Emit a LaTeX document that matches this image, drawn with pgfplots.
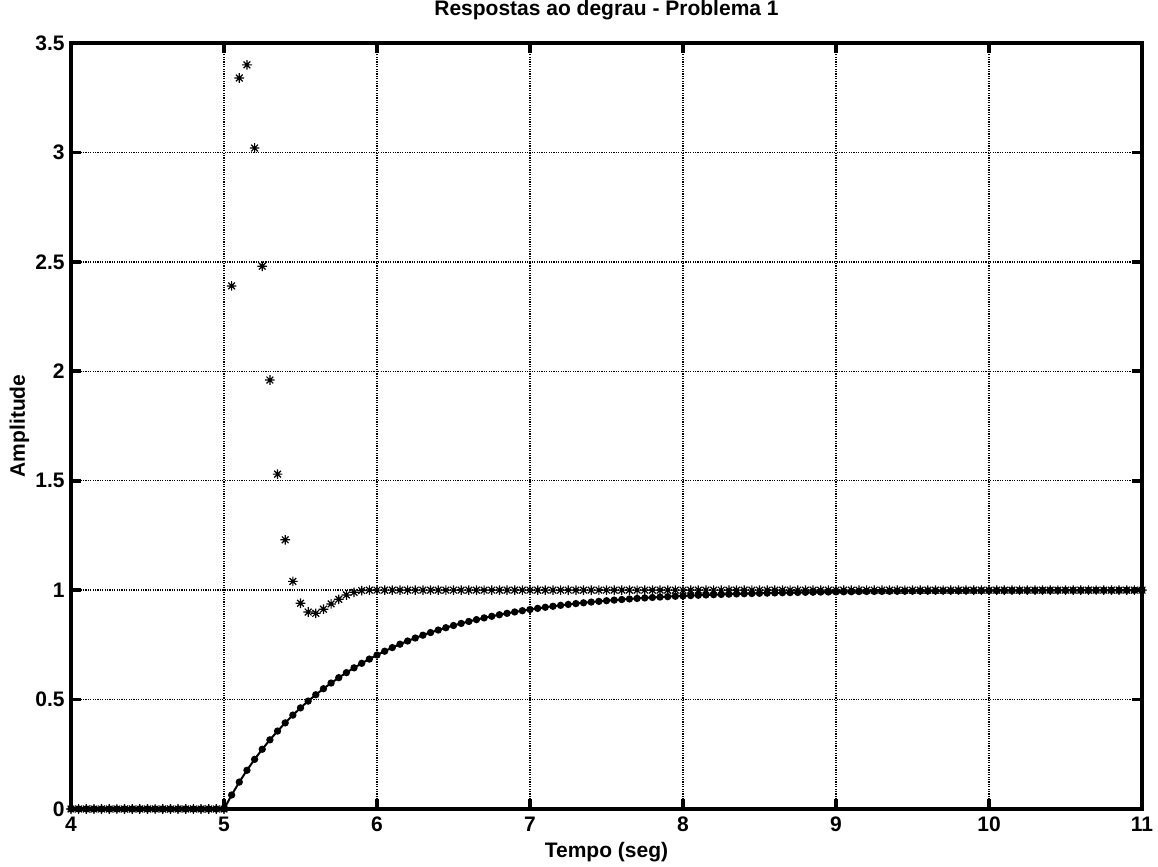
\documentclass[border=0pt]{standalone}
\usepackage{fontspec}
\setmainfont{Liberation Sans}
\usepackage{pgfplots}
\pgfplotsset{compat=1.18}
\usepackage{pgfplotstable}

% MATLAB-style '*' marker: plus and cross together
\pgfdeclareplotmark{mstar}{%
  \pgfpathmoveto{\pgfqpoint{-\pgfplotmarksize}{0pt}}%
  \pgfpathlineto{\pgfqpoint{\pgfplotmarksize}{0pt}}%
  \pgfpathmoveto{\pgfqpoint{0pt}{-\pgfplotmarksize}}%
  \pgfpathlineto{\pgfqpoint{0pt}{\pgfplotmarksize}}%
  \pgfpathmoveto{\pgfqpoint{-.7\pgfplotmarksize}{-.7\pgfplotmarksize}}%
  \pgfpathlineto{\pgfqpoint{.7\pgfplotmarksize}{.7\pgfplotmarksize}}%
  \pgfpathmoveto{\pgfqpoint{-.7\pgfplotmarksize}{.7\pgfplotmarksize}}%
  \pgfpathlineto{\pgfqpoint{.7\pgfplotmarksize}{-.7\pgfplotmarksize}}%
  \pgfusepathqstroke}

\pgfplotstableread{
t star dot
4.00 0 0
4.05 0 0
4.10 0 0
4.15 0 0
4.20 0 0
4.25 0 0
4.30 0 0
4.35 0 0
4.40 0 0
4.45 0 0
4.50 0 0
4.55 0 0
4.60 0 0
4.65 0 0
4.70 0 0
4.75 0 0
4.80 0 0
4.85 0 0
4.90 0 0
4.95 0 0
5.00 0 0
5.05 2.39 0.0640
5.10 3.34 0.1230
5.15 3.40 0.1770
5.20 3.02 0.2270
5.25 2.48 0.2730
5.30 1.96 0.3160
5.35 1.53 0.3560
5.40 1.23 0.3935
5.45 1.04 0.4290
5.50 0.94 0.4620
5.55 0.90 0.4930
5.60 0.894 0.5220
5.65 0.913 0.5495
5.70 0.937 0.5755
5.75 0.958 0.6000
5.80 0.978 0.6230
5.85 0.990 0.6450
5.90 0.998 0.6655
5.95 1.0 0.6850
6.00 1.0 0.7035
6.05 1.0 0.7210
6.10 1.0 0.7375
6.15 1.0 0.7530
6.20 1.0 0.7675
6.25 1.0 0.7812
6.30 1.0 0.7941
6.35 1.0 0.8062
6.40 1.0 0.8176
6.45 1.0 0.8283
6.50 1.0 0.8384
6.55 1.0 0.8479
6.60 1.0 0.8568
6.65 1.0 0.8652
6.70 1.0 0.8731
6.75 1.0 0.8805
6.80 1.0 0.8875
6.85 1.0 0.8941
6.90 1.0 0.9003
6.95 1.0 0.9061
7.00 1.0 0.9116
7.05 1.0 0.9168
7.10 1.0 0.9217
7.15 1.0 0.9263
7.20 1.0 0.9306
7.25 1.0 0.9347
7.30 1.0 0.9385
7.35 1.0 0.9421
7.40 1.0 0.9455
7.45 1.0 0.9487
7.50 1.0 0.9517
7.55 1.0 0.9545
7.60 1.0 0.9572
7.65 1.0 0.9597
7.70 1.0 0.9621
7.75 1.0 0.9643
7.80 1.0 0.9664
7.85 1.0 0.9684
7.90 1.0 0.9702
7.95 1.0 0.9720
8.00 1.0 0.9736
8.05 1.0 0.9752
8.10 1.0 0.9766
8.15 1.0 0.9780
8.20 1.0 0.9793
8.25 1.0 0.9805
8.30 1.0 0.9816
8.35 1.0 0.9827
8.40 1.0 0.9837
8.45 1.0 0.9847
8.50 1.0 0.9856
8.55 1.0 0.9864
8.60 1.0 0.9872
8.65 1.0 0.9880
8.70 1.0 0.9887
8.75 1.0 0.9893
8.80 1.0 0.9900
8.85 1.0 0.9906
8.90 1.0 0.9911
8.95 1.0 0.9916
9.00 1.0 0.9921
9.05 1.0 0.9926
9.10 1.0 0.9930
9.15 1.0 0.9934
9.20 1.0 0.9938
9.25 1.0 0.9942
9.30 1.0 0.9945
9.35 1.0 0.9948
9.40 1.0 0.9951
9.45 1.0 0.9954
9.50 1.0 0.9957
9.55 1.0 0.9959
9.60 1.0 0.9962
9.65 1.0 0.9964
9.70 1.0 0.9966
9.75 1.0 0.9968
9.80 1.0 0.9970
9.85 1.0 0.9972
9.90 1.0 0.9973
9.95 1.0 0.9975
10.00 1.0 0.9976
10.05 1.0 0.9978
10.10 1.0 0.9979
10.15 1.0 0.9980
10.20 1.0 0.9981
10.25 1.0 0.9982
10.30 1.0 0.9983
10.35 1.0 0.9984
10.40 1.0 0.9985
10.45 1.0 0.9986
10.50 1.0 0.9987
10.55 1.0 0.9988
10.60 1.0 0.9988
10.65 1.0 0.9989
10.70 1.0 0.9990
10.75 1.0 0.9990
10.80 1.0 0.9991
10.85 1.0 0.9991
10.90 1.0 0.9992
10.95 1.0 0.9992
11.00 1.0 0.9993
}\resp

\begin{document}
\begin{tikzpicture}
\path[use as bounding box] (-35.5pt,-29pt) rectangle (543.5pt,404.5pt);
\begin{axis}[
    scale only axis,width=535.5pt,height=383pt,
    xmin=4,xmax=11,ymin=0,ymax=3.5,
    xtick={4,5,...,11},ytick={0,0.5,1,1.5,2,2.5,3,3.5},
    xtick pos=both,ytick pos=both,tick align=inside,
    major tick length=5pt,
    tick style={black,line width=1.8pt},
    axis line style={black,line width=1.8pt},
    grid=major,
    major grid style={black,line width=0.7pt,dash pattern=on 0.6pt off 0.6pt},
    /pgf/number format/assume math mode=true,
    every tick label/.append style={font=\fontsize{10.5}{12}\selectfont\bfseries},
    xticklabel style={anchor=base,yshift=-11.5pt},
    yticklabel style={anchor=east,inner sep=0pt,xshift=-3pt},
    title={Respostas ao degrau - Problema 1},
    title style={at={(axis description cs:0.5,1.0196)},anchor=base,
        font=\fontsize{10.5}{12}\selectfont\bfseries},
    xlabel={Tempo (seg)},
    xlabel style={at={(axis description cs:0.5,-0.0627)},anchor=base,
        font=\fontsize{10.5}{12}\selectfont\bfseries},
    ylabel={Amplitude},
    ylabel style={at={(axis description cs:-0.043,0.5)},anchor=base,
        font=\fontsize{10.5}{12}\selectfont\bfseries},
    clip=false
]
    \addplot[black,only marks,mark=mstar,mark size=2.4pt,
        mark options={line width=0.6pt}] table[x=t,y=star]{\resp};
    \addplot[black,line width=1pt,mark=*,mark size=1.3pt] table[x=t,y=dot]{\resp};
\end{axis}
\end{tikzpicture}
\end{document}
